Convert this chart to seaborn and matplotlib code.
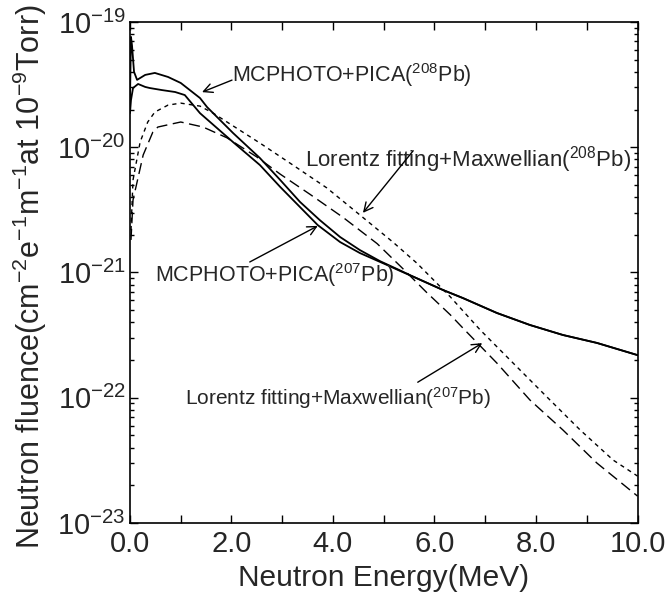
import numpy as np
import pandas as pd
import matplotlib
matplotlib.use("Agg")
import matplotlib.pyplot as plt
import seaborn as sns
from matplotlib.ticker import FixedLocator, FuncFormatter, NullFormatter, LogLocator

# ---------------- data ----------------
mc208_E = [0.0, 0.02, 0.04, 0.08, 0.14, 0.30, 0.49, 0.75, 1.00, 1.38, 1.52, 2.03, 2.56,
           2.96, 3.35, 3.74, 4.14, 4.53, 4.93, 5.32, 5.52, 6.17, 6.56, 7.23, 7.88, 8.53,
           9.20, 10.0]
mc208_F = [2.38e-20, 7.6e-20, 6.5e-20, 4.0e-20, 3.45e-20, 3.78e-20, 3.92e-20, 3.64e-20,
           3.26e-20, 2.47e-20, 2.09e-20, 1.30e-20, 8.2e-21, 5.48e-21, 3.66e-21, 2.62e-21,
           1.92e-21, 1.51e-21, 1.23e-21, 1.04e-21, 9.5e-22, 7.24e-22, 6.25e-22, 4.75e-22,
           3.81e-22, 3.17e-22, 2.74e-22, 2.19e-22]

mc207_E = [0.0, 0.02, 0.06, 0.16, 0.30, 0.39, 0.63, 0.89, 1.08, 1.38, 2.03, 2.56, 2.96,
           3.35, 3.70, 4.14, 4.53, 5.06, 5.32, 5.52, 6.17, 6.56, 7.23, 7.88, 8.53, 9.20, 10.0]
mc207_F = [1.87e-20, 2.38e-20, 2.97e-20, 3.20e-20, 3.03e-20, 2.97e-20, 2.86e-20, 2.76e-20,
           2.61e-20, 1.87e-20, 1.10e-20, 7.21e-21, 4.82e-21, 3.33e-21, 2.39e-21, 1.75e-21,
           1.43e-21, 1.15e-21, 1.03e-21, 9.5e-22, 7.24e-22, 6.25e-22, 4.75e-22, 3.81e-22,
           3.17e-22, 2.74e-22, 2.19e-22]

lz208_E = [0.02, 0.06, 0.20, 0.35, 0.49, 0.75, 1.00, 1.38, 1.64, 2.56, 3.21, 3.88, 4.53,
           5.18, 5.66, 6.31, 6.90, 7.55, 8.22, 8.87, 9.52, 10.0]
lz208_F = [2.18e-21, 5.48e-21, 1.10e-20, 1.59e-20, 1.91e-20, 2.17e-20, 2.25e-20, 2.13e-20,
           1.87e-20, 1.08e-20, 7.21e-21, 4.73e-21, 2.88e-21, 1.75e-21, 1.18e-21, 6.4e-22,
           3.48e-22, 1.89e-22, 1.01e-22, 5.53e-23, 3.18e-23, 2.37e-23]

lz207_E = [0.02, 0.06, 0.26, 0.45, 0.55, 0.81, 1.00, 1.44, 1.91, 2.50, 2.96, 3.55, 4.20,
           4.87, 5.35, 5.85, 6.31, 6.56, 7.23, 7.88, 8.53, 9.20, 10.0]
lz207_F = [1.82e-21, 3.79e-21, 8.67e-21, 1.32e-20, 1.45e-20, 1.53e-20, 1.59e-20, 1.45e-20,
           1.19e-20, 8.36e-21, 6.1e-21, 4.2e-21, 2.75e-21, 1.7e-21, 1.1e-21, 6.9e-22,
           4.6e-22, 3.6e-22, 1.89e-22, 9.6e-23, 5.53e-23, 3.01e-23, 1.64e-23]

x_ticks = [0.0, 2.0, 4.0, 6.0, 8.0, 10.0]
x_minor = [1.0, 3.0, 5.0, 7.0, 9.0]
y_ticks = [1e-23, 1e-22, 1e-21, 1e-20, 1e-19]

labels = {
    "mc208": r"MCPHOTO+PICA($^{208}$Pb)",
    "lz208": r"Lorentz fitting+Maxwellian($^{208}$Pb)",
    "mc207": r"MCPHOTO+PICA($^{207}$Pb)",
    "lz207": r"Lorentz fitting+Maxwellian($^{207}$Pb)",
}

# ---------------- style ----------------
sns.set_style("ticks")
plt.rcParams["font.family"] = ["Liberation Sans", "DejaVu Sans"]
plt.rcParams["mathtext.fontset"] = "custom"
plt.rcParams["mathtext.rm"] = "Liberation Sans"
plt.rcParams["mathtext.it"] = "Liberation Sans:italic"
plt.rcParams["mathtext.bf"] = "Liberation Sans:bold"
plt.rcParams["axes.unicode_minus"] = True

fig = plt.figure(figsize=(6.71, 6.09), dpi=100)
ax = fig.add_axes([0.1937, 0.1412, 0.7564, 0.8227])

series = [
    (mc208_E, mc208_F, "-", 1.3),
    (mc207_E, mc207_F, "-", 1.3),
    (lz208_E, lz208_F, (0, (3.0, 3.0)), 1.0),
    (lz207_E, lz207_F, (0, (8.0, 4.0)), 1.0),
]
for E, F, ls, lw in series:
    df = pd.DataFrame({"E": E, "F": F})
    sns.lineplot(data=df, x="E", y="F", ax=ax, color="black", linestyle=ls,
                 linewidth=lw, estimator=None, sort=False)

ax.set_yscale("log")
ax.set_xlim(0, 10)
ax.set_ylim(1e-23, 1e-19)

ax.xaxis.set_major_locator(FixedLocator(x_ticks))
ax.xaxis.set_minor_locator(FixedLocator(x_minor))
ax.xaxis.set_major_formatter(FuncFormatter(lambda v, p: f"{v:.1f}"))
ax.yaxis.set_major_locator(FixedLocator(y_ticks))
ax.yaxis.set_minor_locator(LogLocator(base=10, subs=np.arange(2, 10), numticks=20))
ax.yaxis.set_major_formatter(FuncFormatter(lambda v, p: r"10$^{%d}$" % int(round(np.log10(v)))))
ax.yaxis.set_minor_formatter(NullFormatter())

ax.tick_params(axis="both", which="both", direction="in", top=True, right=True,
               color="black", width=1.0)
ax.tick_params(axis="x", which="both", length=6, labelsize=21, pad=5)
ax.tick_params(axis="y", which="major", length=6, labelsize=21, pad=3)
ax.tick_params(axis="y", which="minor", length=3)
for s in ax.spines.values():
    s.set_linewidth(1.2)
    s.set_color("black")

ax.set_xlabel("Neutron Energy(MeV)", fontsize=21.5)
ax.xaxis.label.set_va("center")
ax.xaxis.set_label_coords(0.5, -0.110)
ax.set_ylabel(r"Neutron fluence(cm$^{-2}$e$^{-1}$m$^{-1}$at 10$^{-9}$Torr)", fontsize=22)
ax.yaxis.label.set_va("center")
ax.yaxis.set_label_coords(-0.197, 0.491)

# ---------------- annotations ----------------
arrow = dict(arrowstyle="->", lw=1.0, color="black", shrinkA=0, shrinkB=0, mutation_scale=16)
ax.text(0.201, 0.880, labels["mc208"], transform=ax.transAxes, fontsize=15.5, va="baseline", ha="left")
ax.annotate("", xy=(0.142, 0.860), xytext=(0.201, 0.884), xycoords="axes fraction",
            textcoords="axes fraction", arrowprops=arrow)

ax.text(0.345, 0.711, labels["lz208"], transform=ax.transAxes, fontsize=16, va="baseline", ha="left")
ax.annotate("", xy=(0.459, 0.619), xytext=(0.558, 0.743), xycoords="axes fraction",
            textcoords="axes fraction", arrowprops=arrow)

ax.text(0.049, 0.481, labels["mc207"], transform=ax.transAxes, fontsize=15.5, va="baseline", ha="left")
ax.annotate("", xy=(0.370, 0.593), xytext=(0.236, 0.521), xycoords="axes fraction",
            textcoords="axes fraction", arrowprops=arrow)

ax.text(0.108, 0.2355, labels["lz207"], transform=ax.transAxes, fontsize=15, va="baseline", ha="left")
ax.annotate("", xy=(0.694, 0.359), xytext=(0.567, 0.281), xycoords="axes fraction",
            textcoords="axes fraction", arrowprops=arrow)

fig.savefig("out.png", dpi=100)
